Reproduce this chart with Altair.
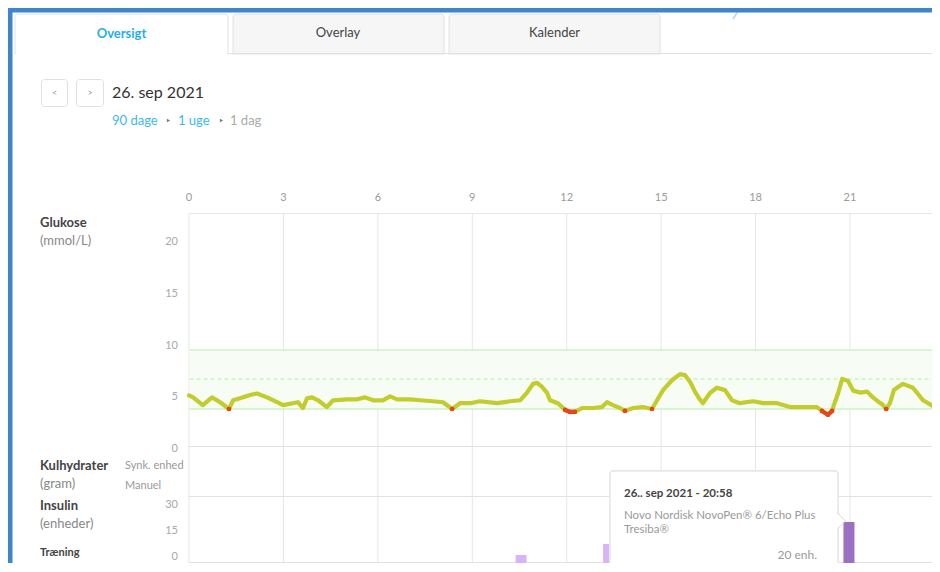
import altair as alt
import pandas as pd

# ---------------- data ----------------
GLUCOSE_HOURS = [0.0, 0.13, 0.44, 0.73, 0.99, 1.27, 1.40, 1.62, 1.94, 2.16, 2.48, 2.80, 2.99, 3.30,
                 3.46, 3.62, 3.75, 3.91, 4.10, 4.38, 4.58, 5.02, 5.34, 5.59, 5.85, 6.16, 6.39, 6.61,
                 7.02, 7.34, 7.75, 8.07, 8.36, 8.61, 8.93, 9.24, 9.79, 10.20, 10.52, 10.74, 10.93,
                 11.06, 11.21, 11.37, 11.47, 11.72, 11.95, 12.10, 12.26, 12.49, 12.84, 13.12, 13.28,
                 13.47, 13.69, 13.85, 14.11, 14.42, 14.71, 14.87, 15.06, 15.35, 15.60, 15.76, 15.92,
                 16.08, 16.23, 16.33, 16.55, 16.77, 17.03, 17.25, 17.50, 17.92, 18.24, 18.68, 19.09,
                 19.51, 19.95, 20.11, 20.30, 20.43, 20.52, 20.62, 20.75, 20.94, 21.10, 21.32, 21.54,
                 21.73, 21.92, 22.02, 22.15, 22.27, 22.40, 22.68, 23.00, 23.32, 23.64, 23.86]
GLUCOSE_VALUES = [5.3, 5.1, 4.3, 5.1, 4.6, 3.9, 4.8, 5.0, 5.35, 5.5, 5.1, 4.6, 4.3, 4.5,
                  4.6, 4.0, 5.0, 5.1, 4.8, 4.1, 4.8, 4.9, 4.9, 5.1, 4.8, 4.8, 5.2, 4.9,
                  4.9, 4.8, 4.7, 4.6, 3.9, 4.5, 4.5, 4.7, 4.5, 4.7, 4.8, 5.6, 6.5,
                  6.6, 6.2, 5.6, 4.8, 4.5, 3.8, 3.6, 3.6, 4.0, 4.0, 4.1, 4.6,
                  4.3, 4.0, 3.7, 4.0, 4.1, 3.9, 4.8, 5.85, 6.9, 7.5, 7.4, 6.7,
                  5.65, 4.9, 4.5, 5.55, 6.1, 5.85, 4.8, 4.5, 4.7, 4.5, 4.5, 4.1,
                  4.1, 4.1, 3.7, 3.3, 3.7, 4.6, 5.5, 7.0, 6.8, 5.8, 5.6, 5.7,
                  5.1, 4.6, 4.4, 3.9, 4.5, 5.9, 6.5, 6.1, 4.8, 4.2, 4.1]
LOW_LIMIT = 4.0
TARGET_LOW = 3.9
TARGET_HIGH = 10.0
TARGET_MID = 7.0

HOUR_TICKS = [0, 3, 6, 9, 12, 15, 18, 21]
GRID_HOURS = [0, 3, 6, 9, 12, 15, 18, 21, 24]
GLUCOSE_LABELS = [0, 5, 10, 15, 20]
INSULIN_LABELS = [0, 15, 30]

INSULIN_HOURS = [10.55, 13.33, 20.967]
INSULIN_UNITS = [5, 10, 20]
INSULIN_KIND = ["Hurtigtvirkende", "Hurtigtvirkende", "Tresiba®"]

TABS = ["Oversigt", "Overlay", "Kalender"]
DATE_TEXT = "26. sep 2021"
CRUMBS = ["90 dage", "1 uge", "1 dag"]
TOOLTIP_TITLE = "26.. sep 2021 - 20:58"
TOOLTIP_LINES = ["Novo Nordisk NovoPen® 6/Echo Plus", "Tresiba®"]
TOOLTIP_DOSE = f"{INSULIN_UNITS[2]} enh."

# ---------------- styling ----------------
FONT = "Lato"
BLUE_BORDER = "#3d85cc"
TAB_BORDER = "#e2e2e2"
TAB_FILL = "#f6f6f6"
LINK = "#3cb9ef"
GRID = "#e6e6e6"
TARGET_LINE = "#b2efa8"
TARGET_FILL = "#f7fcf4"
GLUCOSE_COLOR = "#c1cd2d"
LOW_COLOR = "#e6461c"

W, H = 924, 555  # whole page minus the 8px body margins

ONE = pd.DataFrame({"_": [0]})


def P(v):
    return v - 8  # page pixel -> view pixel


def txt(s, x, y, size=13, color="#444", bold=False, align="left", baseline="middle"):
    kw = dict(text=s, fontSize=size, color=color, align=align, baseline=baseline, font=FONT)
    if bold:
        kw["fontWeight"] = "bold"
    return alt.Chart(ONE).mark_text(**kw).encode(x=alt.value(P(x)), y=alt.value(P(y)))


def box(x1, y1, x2, y2, fill="white", stroke=None, sw=1, **extra):
    kw = dict(fill=fill)
    if stroke:
        kw["stroke"] = stroke
        kw["strokeWidth"] = sw
    kw.update(extra)
    return alt.Chart(ONE).mark_rect(**kw).encode(
        x=alt.value(P(x1)), x2=alt.value(P(x2)), y=alt.value(P(y1)), y2=alt.value(P(y2)))


def seg(x1, y1, x2, y2, color, sw=1, dash=None):
    kw = dict(color=color, strokeWidth=sw)
    if dash:
        kw["strokeDash"] = dash
    return alt.Chart(ONE).mark_rule(**kw).encode(
        x=alt.value(P(x1)), x2=alt.value(P(x2)), y=alt.value(P(y1)), y2=alt.value(P(y2)))


def tri(x, y, color, size):
    kw = dict(shape="triangle-right", filled=True, color=color, size=size, opacity=1)
    return alt.Chart(ONE).mark_point(**kw).encode(x=alt.value(P(x)), y=alt.value(P(y)))


# ---------------- scales ----------------
XS = alt.Scale(domain=[0, 24], range=[P(189), P(189) + 24 * 31.476], nice=False)
GY = alt.Scale(domain=[0, 24], range=[P(446.7), P(446.7) - 24 * 9.67], nice=False)
GLY = alt.Scale(domain=[0, 20], range=[P(449), P(242)], nice=False)
IY = alt.Scale(domain=[0, 30], range=[P(566), P(500)], nice=False)
ILY = alt.Scale(domain=[0, 30], range=[P(557), P(505)], nice=False)

# ---------------- tables ----------------
g = pd.DataFrame({"hour": GLUCOSE_HOURS, "glucose": GLUCOSE_VALUES})
g["low"] = g["glucose"] < LOW_LIMIT
g["run"] = (g["low"] != g["low"].shift()).cumsum()
g_low = g[g["low"]]

ins = pd.DataFrame({"hour": INSULIN_HOURS, "units": INSULIN_UNITS, "kind": INSULIN_KIND})
grid = pd.DataFrame({"hour": GRID_HOURS})
ticks = pd.DataFrame({"hour": HOUR_TICKS})
glabels = pd.DataFrame({"v": GLUCOSE_LABELS})
ilabels = pd.DataFrame({"u": INSULIN_LABELS})
target_band = pd.DataFrame({"lo": [TARGET_LOW], "hi": [TARGET_HIGH]})
target_lines = pd.DataFrame({"t": [TARGET_LOW, TARGET_HIGH]})
target_mid = pd.DataFrame({"m": [TARGET_MID]})

X = alt.X("hour:Q", scale=XS, axis=None)

layers = []

# ---- header / tabs ----
layers.append(box(15, 14, 228, 54, fill="white", stroke=TAB_BORDER,
                  cornerRadiusTopLeft=3, cornerRadiusTopRight=3))
layers.append(seg(16, 54, 227, 54, "white", sw=2))
layers.append(box(233, 14, 444, 54, fill=TAB_FILL, stroke=TAB_BORDER,
                  cornerRadiusTopLeft=3, cornerRadiusTopRight=3))
layers.append(box(449, 14, 660, 54, fill=TAB_FILL, stroke=TAB_BORDER,
                  cornerRadiusTopLeft=3, cornerRadiusTopRight=3))
layers.append(seg(228, 53.5, 940, 53.5, TAB_BORDER))
layers.append(txt(TABS[0], 121.5, 34, size=13, color="#1fb0ea", bold=True, align="center"))
layers.append(txt(TABS[1], 338, 32.5, size=13, color="#444", align="center"))
layers.append(txt(TABS[2], 554.5, 32.5, size=13, color="#444", align="center"))
layers.append(seg(740, 8, 733, 19, "#c4dcf1", sw=2))

# nav buttons + date
layers.append(box(41.5, 79.5, 67.5, 106.5, fill="white", stroke="#e0e0e0", cornerRadius=3))
layers.append(box(76.5, 79.5, 103.5, 106.5, fill="white", stroke="#e0e0e0", cornerRadius=3))
layers.append(txt("<", 54.5, 93, size=9, color="#999", align="center"))
layers.append(txt(">", 90, 93, size=9, color="#999", align="center"))
layers.append(txt(DATE_TEXT, 112, 92.5, size=16, color="#333"))
layers.append(txt(CRUMBS[0], 112, 121, size=13, color=LINK))
layers.append(tri(168.5, 120.5, "#777", 14))
layers.append(txt(CRUMBS[1], 178, 121, size=13, color=LINK))
layers.append(tri(221.5, 120.5, "#777", 14))
layers.append(txt(CRUMBS[2], 230, 121, size=13, color="#aaa"))

# ---- chart frame ----
layers.append(alt.Chart(grid).mark_rule(color=GRID, strokeWidth=1).encode(
    x=X, y=alt.value(P(213.5)), y2=alt.value(P(580))))
layers.append(seg(189, 213.5, 940, 213.5, GRID))
layers.append(alt.Chart(ticks).mark_text(fontSize=11, color="#9a9a9a", font=FONT, baseline="middle").encode(
    x=X, y=alt.value(P(198)), text=alt.Text("hour:Q", format="d")))

# glucose target band
layers.append(alt.Chart(target_band).mark_rect(fill=TARGET_FILL).encode(
    x=alt.value(P(189.5)), x2=alt.value(P(940)),
    y=alt.Y("lo:Q", scale=GY, axis=None), y2="hi:Q"))
layers.append(alt.Chart(target_lines).mark_rule(color=TARGET_LINE, strokeWidth=1).encode(
    x=alt.value(P(189.5)), x2=alt.value(P(940)), y=alt.Y("t:Q", scale=GY, axis=None)))
layers.append(alt.Chart(target_mid).mark_rule(color=TARGET_LINE, strokeWidth=1, strokeDash=[4, 3]).encode(
    x=alt.value(P(189.5)), x2=alt.value(P(940)), y=alt.Y("m:Q", scale=GY, axis=None)))

# panel separators
layers.append(seg(189, 446.5, 940, 446.5, "#e2e2e2"))
layers.append(seg(189, 496.5, 940, 496.5, "#e2e2e2"))
layers.append(seg(189, 562.5, 940, 562.5, "#e2e2e2"))

# glucose y labels
layers.append(alt.Chart(glabels).mark_text(fontSize=11, color="#a8a8a8", font=FONT, align="right",
                                           baseline="middle").encode(
    x=alt.value(P(178)), y=alt.Y("v:Q", scale=GLY, axis=None), text="v:Q"))
# insulin y labels
layers.append(alt.Chart(ilabels).mark_text(fontSize=11, color="#a8a8a8", font=FONT, align="right",
                                           baseline="middle").encode(
    x=alt.value(P(178)), y=alt.Y("u:Q", scale=ILY, axis=None), text="u:Q"))

# row titles
layers.append(txt("Glukose", 40, 223, size=13, color="#444", bold=True))
layers.append(txt("(mmol/L)", 40, 241, size=13, color="#888"))
layers.append(txt("Kulhydrater", 40, 466, size=13, color="#444", bold=True))
layers.append(txt("(gram)", 40, 484, size=13, color="#888"))
layers.append(txt("Synk. enhed", 125, 466, size=11, color="#999"))
layers.append(txt("Manuel", 125, 486, size=11, color="#999"))
layers.append(txt("Insulin", 40, 506, size=13, color="#444", bold=True))
layers.append(txt("(enheder)", 40, 524, size=13, color="#888"))
layers.append(txt("Træning", 40, 553, size=11, color="#444", bold=True))

# ---- glucose trace ----
layers.append(alt.Chart(g).mark_line(color=GLUCOSE_COLOR, strokeWidth=4.2, strokeCap="round",
                                     strokeJoin="round").encode(
    x=X, y=alt.Y("glucose:Q", scale=GY, axis=None), order="hour:Q"))
layers.append(alt.Chart(g_low).mark_line(color=LOW_COLOR, strokeWidth=4.2, strokeCap="round",
                                         strokeJoin="round").encode(
    x=X, y=alt.Y("glucose:Q", scale=GY, axis=None), detail="run:N", order="hour:Q"))
layers.append(alt.Chart(g_low).mark_circle(color=LOW_COLOR, size=22, opacity=1).encode(
    x=X, y=alt.Y("glucose:Q", scale=GY, axis=None)))

# ---- insulin bars ----
layers.append(alt.Chart(ins).mark_rule(strokeWidth=11).encode(
    x=X, y=alt.Y("units:Q", scale=IY, axis=None), y2=alt.datum(0),
    color=alt.Color("kind:N", scale=alt.Scale(domain=["Hurtigtvirkende", "Tresiba®"],
                                              range=["#d9b3f8", "#9b6fc1"]), legend=None)))

# ---- tooltip ----
layers.append(box(609, 470, 839, 590, fill="#f2f2f2", cornerRadius=4))
layers.append(box(610, 471, 838, 590, fill="white", stroke="#dcdcdc", cornerRadius=3))
layers.append(tri(840, 521, "white", 110))
layers.append(seg(838, 514.5, 838, 527.5, "white", sw=2))
layers.append(seg(838, 513.5, 845.5, 521, "#d6d6d6"))
layers.append(seg(845.5, 521, 838, 528.5, "#d6d6d6"))
layers.append(txt(TOOLTIP_TITLE, 624, 493.5, size=11.5, color="#444", bold=True))
layers.append(txt(TOOLTIP_LINES[0], 624, 516, size=11.5, color="#9a9a9a"))
layers.append(txt(TOOLTIP_LINES[1], 624, 529.5, size=11.5, color="#9a9a9a"))
layers.append(txt(TOOLTIP_DOSE, 817, 555, size=12, color="#9a9a9a", align="right"))

# ---- blue frame ----
layers.append(box(8, 8, 940, 12.5, fill=BLUE_BORDER))
layers.append(box(8, 8, 12.5, 580, fill=BLUE_BORDER))

chart = alt.layer(*layers).resolve_scale(y="independent").properties(
    width=W, height=H, padding=0,
    autosize=alt.AutoSizeParams(type="none"),
).configure_view(strokeWidth=0).configure(background="white")

chart.save("out.html", embed_options={"renderer": "svg", "actions": False})
